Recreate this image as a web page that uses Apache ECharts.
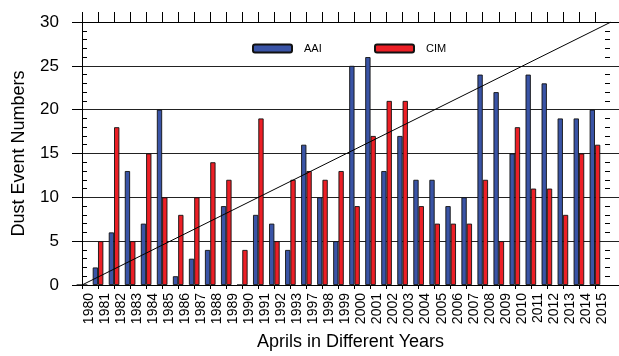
<!DOCTYPE html>
<html>
<head>
<meta charset="utf-8">
<script src="https://cdn.jsdelivr.net/npm/echarts@6/dist/echarts.min.js"></script>
<style>
  html, body { margin: 0; padding: 0; background: #fff; }
  #chart { width: 619px; height: 356px; }
</style>
</head>
<body>
<div id="chart"></div>
<script>
// April dust event counts per year from two detection methods
const years = ['1980','1981','1982','1983','1984','1985','1986','1987','1988','1989','1990','1991',
  '1992','1993','1997','1998','1999','2000','2001','2002','2003','2004','2005','2006','2007',
  '2008','2009','2010','2011','2012','2013','2014','2015'];
const aai = [0,2,6,13,7,20,1,3,4,9,0,8,7,4,16,10,5,25,26,13,17,12,12,9,10,24,22,15,24,23,19,19,20];
const cim = [0,5,18,5,15,10,8,10,14,12,4,19,5,12,13,12,13,9,17,21,21,9,7,7,7,12,5,18,11,11,8,15,16];
// 1:1 reference line from the origin to the top-right corner
const refLine = [[0, 0], [33, 30]];
const yTicks = [0, 5, 10, 15, 20, 25, 30];

const FONT = 'Liberation Sans';
const tickIdx = years.map((_, i) => i);
const X_MAX = 33.5;

const chart = echarts.init(document.getElementById('chart'), null, { renderer: 'canvas' });
chart.setOption({
  animation: false,
  backgroundColor: '#fff',
  grid: { left: 82, right: 0, top: 22, bottom: 65 },
  legend: [
    {
      data: ['AAI'], left: 252, top: 43, padding: 0,
      itemWidth: 39, itemHeight: 8,
      textStyle: { fontFamily: FONT, fontSize: 11, color: '#000', padding: [0, 0, 0, 7] }
    },
    {
      data: ['CIM'], left: 374, top: 43, padding: 0,
      itemWidth: 39, itemHeight: 8,
      textStyle: { fontFamily: FONT, fontSize: 11, color: '#000', padding: [0, 0, 0, 7] }
    }
  ],
  xAxis: [
    {
      type: 'value', position: 'bottom', min: 0, max: X_MAX, interval: 1,
      name: 'Aprils in Different Years', nameLocation: 'middle', nameGap: 48,
      nameTextStyle: { fontFamily: FONT, fontSize: 18, color: '#000' },
      axisLine: { show: true, onZero: false, lineStyle: { color: '#000', width: 1 } },
      axisTick: { show: true, inside: false, length: 4, customValues: tickIdx, lineStyle: { color: '#000' } },
      axisLabel: {
        customValues: tickIdx, rotate: 90, margin: 8, verticalAlign: 'top',
        fontFamily: FONT, fontSize: 14, color: '#000', lineHeight: 14,
        formatter: v => years[v] || ''
      },
      splitLine: { show: false }
    },
    {
      type: 'value', position: 'top', min: 0, max: X_MAX, interval: 1,
      axisLine: { show: true, onZero: false, lineStyle: { color: '#000', width: 1 } },
      axisTick: { show: true, inside: false, length: 10, customValues: tickIdx, lineStyle: { color: '#000' } },
      axisLabel: { show: false },
      splitLine: { show: false }
    }
  ],
  yAxis: [
    {
      type: 'value', position: 'left', min: 0, max: 30, interval: 5,
      name: 'Dust Event Numbers', nameLocation: 'middle', nameGap: 54, nameRotate: 90,
      nameTextStyle: { fontFamily: FONT, fontSize: 18, color: '#000' },
      axisLine: { show: true, onZero: false, lineStyle: { color: '#000', width: 1 } },
      axisTick: { show: true, inside: false, length: 10, lineStyle: { color: '#000' } },
      // negative length turns the minor ticks outward
      minorTick: { show: true, splitNumber: 5, length: -5, lineStyle: { color: '#000' } },
      axisLabel: {
        customValues: yTicks, margin: 23,
        fontFamily: FONT, fontSize: 17, color: '#000'
      },
      splitLine: { show: true, lineStyle: { color: '#222', width: 1 } }
    },
    {
      type: 'value', position: 'right', offset: -9, min: 0, max: 30, interval: 5,
      axisLine: { show: false, onZero: false },
      axisTick: { show: false },
      minorTick: { show: true, splitNumber: 5, length: -5, lineStyle: { color: '#000' } },
      axisLabel: { show: false },
      splitLine: { show: false }
    }
  ],
  series: [
    {
      name: 'AAI', type: 'bar', xAxisIndex: 0, yAxisIndex: 0,
      barWidth: 5.3, barGap: '0%',
      itemStyle: { color: '#3a54a6', borderColor: '#111', borderWidth: 0.9 },
      data: aai.map((v, i) => [i, v])
    },
    {
      name: 'CIM', type: 'bar', xAxisIndex: 0, yAxisIndex: 0,
      barWidth: 5.3, barGap: '0%',
      itemStyle: { color: '#ec1f26', borderColor: '#111', borderWidth: 0.9 },
      data: cim.map((v, i) => [i, v])
    },
    {
      // drawn on the top/right axes, which share the same scales
      name: 'ref', type: 'line', xAxisIndex: 1, yAxisIndex: 1,
      symbol: 'none', silent: true, z: 5,
      lineStyle: { color: '#000', width: 1 },
      data: refLine
    }
  ]
});
</script>
</body>
</html>
